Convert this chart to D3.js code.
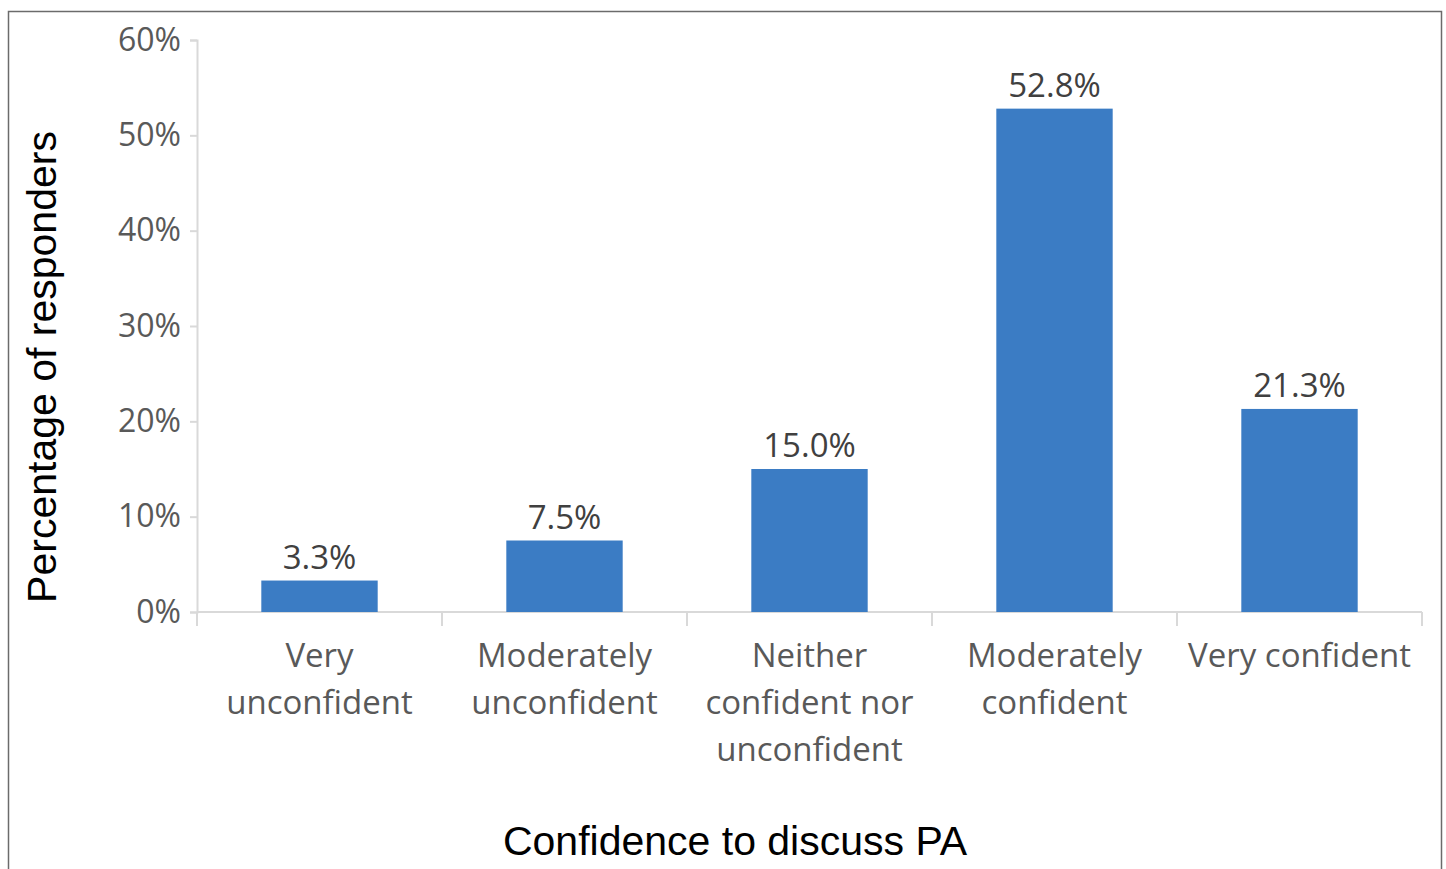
<!DOCTYPE html>
<html>
<head>
<meta charset="utf-8">
<script src="https://cdn.jsdelivr.net/npm/d3@7"></script>
<style>
  body { margin: 0; background: #fff; }
  svg { display: block; }
</style>
</head>
<body>
<svg></svg>
<script>
var categories = [
  ["Very", "unconfident"],
  ["Moderately", "unconfident"],
  ["Neither", "confident nor", "unconfident"],
  ["Moderately", "confident"],
  ["Very confident"]
];
var values = [3.3, 7.5, 15.0, 52.8, 21.3];
var valueLabels = ["3.3%", "7.5%", "15.0%", "52.8%", "21.3%"];
var yTicks = [0, 10, 20, 30, 40, 50, 60];

var createChart = function() {
  var width = 1446, height = 869;
  var margin = {top: 40, right: 24, bottom: 257, left: 197};
  var innerW = 1422 - margin.left,
      innerH = 612 - margin.top;
  var labelFont = '"Open Sans", Lato, sans-serif';

  var svg = d3.select('svg')
      .attr('width', width)
      .attr('height', height);

  // outer frame (bottom edge cut off in the original)
  svg.append('path')
      .attr('d', 'M8.5,869 V11.5 H1441.5 V869')
      .attr('fill', 'none')
      .attr('stroke', '#6b6b6b')
      .attr('stroke-width', 1.5);

  var g = svg.append('g')
      .attr('transform', 'translate(' + margin.left + ',' + margin.top + ')');

  var idx = d3.range(values.length);
  var x = d3.scaleBand()
      .domain(idx)
      .range([0, innerW])
      .paddingInner(0.525)
      .paddingOuter(0.2625);

  var y = d3.scaleLinear()
      .domain([0, 60])
      .range([innerH, 0]);

  var step = x.step();

  // y axis
  var yAxis = g.append('g')
      .call(d3.axisLeft(y).tickValues(yTicks).tickSize(7).tickFormat(function(d) { return d + '%'; }));
  yAxis.select('.domain').attr('stroke', '#d9d9d9').attr('stroke-width', 2);
  yAxis.selectAll('.tick line').attr('stroke', '#d9d9d9').attr('stroke-width', 2);
  yAxis.selectAll('.tick text')
      .attr('x', -16)
      .attr('fill', '#595959')
      .style('font-family', labelFont)
      .style('font-size', '32px');

  // x axis line and category separators
  g.append('line')
      .attr('x1', 0).attr('x2', innerW)
      .attr('y1', innerH).attr('y2', innerH)
      .attr('stroke', '#d9d9d9').attr('stroke-width', 2);

  g.selectAll('.sep')
      .data(d3.range(values.length + 1))
      .enter().append('line')
      .attr('class', 'sep')
      .attr('x1', function(d) { return d * step; })
      .attr('x2', function(d) { return d * step; })
      .attr('y1', innerH)
      .attr('y2', innerH + 14)
      .attr('stroke', '#d9d9d9').attr('stroke-width', 2);

  // bars
  g.selectAll('.bar')
      .data(values)
      .enter().append('rect')
      .attr('class', 'bar')
      .attr('x', function(d, i) { return x(i); })
      .attr('y', function(d) { return y(d); })
      .attr('width', x.bandwidth())
      .attr('height', function(d) { return innerH - y(d); })
      .attr('fill', '#3b7cc4');

  // value labels
  g.selectAll('.val')
      .data(values)
      .enter().append('text')
      .attr('class', 'val')
      .attr('x', function(d, i) { return x(i) + x.bandwidth() / 2; })
      .attr('y', function(d) { return y(d) - 12; })
      .attr('text-anchor', 'middle')
      .attr('fill', '#404040')
      .style('font-family', labelFont)
      .style('font-size', '33px')
      .text(function(d, i) { return valueLabels[i]; });

  // category labels
  var cat = g.selectAll('.cat')
      .data(categories)
      .enter().append('text')
      .attr('class', 'cat')
      .attr('x', function(d, i) { return x(i) + x.bandwidth() / 2; })
      .attr('y', innerH + 55)
      .attr('text-anchor', 'middle')
      .attr('fill', '#595959')
      .style('font-family', labelFont)
      .style('font-size', '33px');
  cat.selectAll('tspan')
      .data(function(d, i) { return d.map(function(t) { return {t: t, i: i}; }); })
      .enter().append('tspan')
      .attr('x', function(d) { return x(d.i) + x.bandwidth() / 2; })
      .attr('dy', function(d, j) { return j === 0 ? 0 : 47; })
      .text(function(d) { return d.t; });

  // axis titles
  svg.append('text')
      .attr('transform', 'translate(56,367) rotate(-90)')
      .attr('text-anchor', 'middle')
      .attr('fill', '#000')
      .style('font-family', '"Liberation Sans", Arial, sans-serif')
      .style('font-size', '41px')
      .text('Percentage of responders');

  svg.append('text')
      .attr('x', 735)
      .attr('y', 855)
      .attr('text-anchor', 'middle')
      .attr('fill', '#000')
      .style('font-family', '"Liberation Sans", Arial, sans-serif')
      .style('font-size', '41px')
      .text('Confidence to discuss PA');
}

createChart();
</script>
</body>
</html>
